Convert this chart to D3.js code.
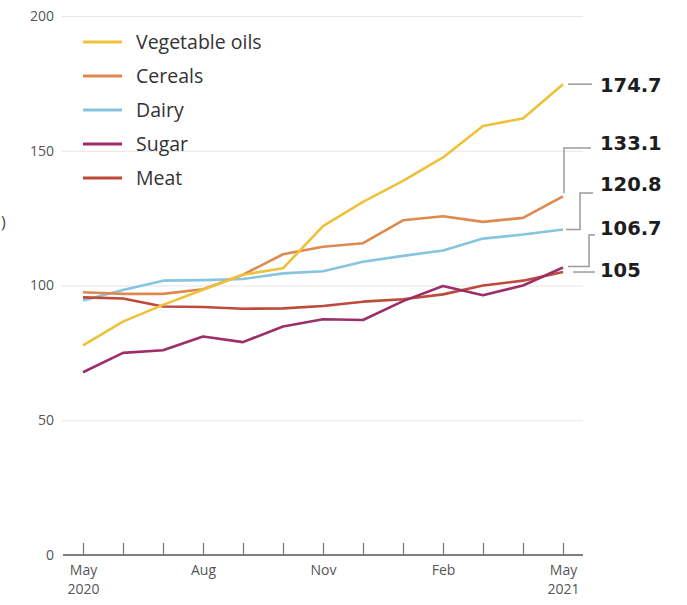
<!DOCTYPE html>
<html>
<head>
<meta charset="utf-8">
<script src="https://cdn.jsdelivr.net/npm/d3@7"></script>
<style>
  body { margin: 0; background: #fff; }
  svg { display: block; }
</style>
</head>
<body>
<script>
// monthly FAO sub-indices, May 2020 .. May 2021
let months = ["May", "Jun", "Jul", "Aug", "Sep", "Oct", "Nov", "Dec", "Jan", "Feb", "Mar", "Apr", "May"];
let monthLabels = ["May", "", "", "Aug", "", "", "Nov", "", "", "Feb", "", "", "May"];
let yearLabels = ["2020", "", "", "", "", "", "", "", "", "", "", "", "2021"];
let seriesNames = ["Vegetable oils", "Cereals", "Dairy", "Sugar", "Meat"];
let vegOils = [77.8, 86.6, 92.8, 98.4, 104.0, 106.4, 122.0, 131.0, 138.8, 147.5, 159.2, 162.0, 174.7];
let cereals = [97.5, 96.9, 96.9, 98.6, 104.0, 111.6, 114.4, 115.7, 124.2, 125.7, 123.6, 125.1, 133.1];
let dairy = [94.4, 98.3, 101.8, 102.0, 102.4, 104.5, 105.3, 108.8, 111.0, 113.0, 117.4, 118.9, 120.8];
let sugar = [67.8, 75.0, 76.0, 81.1, 79.0, 84.8, 87.5, 87.2, 94.2, 99.8, 96.4, 100.0, 106.7];
let meat = [95.6, 95.2, 92.2, 92.0, 91.4, 91.5, 92.4, 94.0, 94.9, 96.7, 100.0, 101.8, 105.0];
let yTicks = [0, 50, 100, 150, 200];
let endLabels = ["174.7", "133.1", "120.8", "106.7", "105"];

let colors = ["#efc139", "#de8a4f", "#86c5dd", "#9c2f68", "#bd4a3b"];
let allSeries = [vegOils, cereals, dairy, sugar, meat];

let width = 687, height = 605;
let svg = d3.select("body").append("svg")
  .attr("width", width)
  .attr("height", height);

let xScale = d3.scaleLinear().domain([0, months.length - 1]).range([83, 563]);
let yScale = d3.scaleLinear().domain([0, 200]).range([555, 16]);

// gridlines
svg.append("g")
  .attr("transform", "translate(62, 0)")
  .call(d3.axisLeft(yScale).tickValues(yTicks.filter(d => d > 0)).tickSize(-521).tickFormat(""))
  .call(g => g.select(".domain").remove())
  .call(g => g.selectAll("line").attr("stroke", "#e6e6e6").attr("stroke-width", 1.2));

// y tick labels
svg.append("g")
  .attr("transform", "translate(62, 0)")
  .call(d3.axisLeft(yScale).tickValues(yTicks).tickSize(0).tickPadding(8))
  .call(g => g.select(".domain").remove())
  .call(g => g.selectAll("text")
    .style("font-family", "'Open Sans', sans-serif")
    .style("font-size", "14px")
    .attr("fill", "#555"));

// x axis, ticks pointing up
let xAxis = svg.append("g")
  .attr("transform", "translate(0, " + yScale(0) + ")")
  .call(d3.axisBottom(xScale)
    .tickValues(d3.range(months.length))
    .tickSizeInner(-12)
    .tickSizeOuter(0)
    .tickPadding(10)
    .tickFormat(i => monthLabels[i]));

xAxis.select(".domain")
  .attr("d", "M63,0H583")
  .attr("stroke", "#555")
  .attr("stroke-width", 1.5);
xAxis.selectAll(".tick line").attr("stroke", "#777").attr("stroke-width", 1.2);
xAxis.selectAll(".tick text")
  .style("font-family", "'Open Sans', sans-serif")
  .style("font-size", "14px")
  .attr("fill", "#555");

// year under first and last month
xAxis.selectAll(".tick")
  .filter(i => yearLabels[i])
  .append("text")
  .attr("y", 29)
  .attr("dy", "0.71em")
  .attr("fill", "#555")
  .style("font-family", "'Open Sans', sans-serif")
  .style("font-size", "14px")
  .text(i => yearLabels[i]);

// lines
let line = d3.line()
  .x((d, i) => xScale(i))
  .y(d => yScale(d));

// draw back to front so veg oils sits on top like the original
let order = [2, 1, 4, 3, 0];
order.forEach(k => {
  svg.append("path")
    .datum(allSeries[k])
    .attr("d", line)
    .attr("fill", "none")
    .attr("stroke", colors[k])
    .attr("stroke-width", 2.6)
    .attr("stroke-linejoin", "round");
});

// legend
let legend = svg.append("g");
seriesNames.forEach((name, i) => {
  let y = 42 + i * 34;
  legend.append("line")
    .attr("x1", 83).attr("x2", 122)
    .attr("y1", y).attr("y2", y)
    .attr("stroke", colors[i])
    .attr("stroke-width", 3);
  legend.append("text")
    .attr("x", 136)
    .attr("y", y)
    .attr("dy", "0.35em")
    .style("font-family", "'Open Sans', sans-serif")
    .style("font-size", "19.5px")
    .attr("fill", "#333")
    .text(name);
});

// end value callouts
let lastX = xScale(months.length - 1);
let last = allSeries.map(s => yScale(s[s.length - 1]));
let labelY = [85, 143, 184, 228, 270];
let leaders = [
  [[lastX + 5, last[0]], [lastX + 29, last[0]]],
  [[lastX + 1, last[1] - 3], [lastX + 1, labelY[1] + 5], [lastX + 28, labelY[1] + 5]],
  [[lastX + 3, last[2]], [lastX + 17, last[2]], [lastX + 17, labelY[2] + 9], [lastX + 30, labelY[2] + 9]],
  [[lastX + 5, last[3] - 1], [lastX + 26, last[3] - 1], [lastX + 26, labelY[3] + 7], [lastX + 32, labelY[3] + 7]],
  [[lastX + 10, last[4]], [lastX + 32, last[4]]]
];
leaders.forEach(pts => {
  svg.append("path")
    .attr("d", d3.line()(pts))
    .attr("fill", "none")
    .attr("stroke", "#9a9a9a")
    .attr("stroke-width", 1.5);
});
endLabels.forEach((t, i) => {
  svg.append("text")
    .attr("x", 600)
    .attr("y", labelY[i])
    .attr("dy", "0.36em")
    .style("font-family", "'DejaVu Sans', sans-serif")
    .style("font-weight", "bold")
    .style("font-size", "19.5px")
    .attr("fill", "#1e1e1e")
    .text(t);
});

// axis title remnant at the left edge
svg.append("text")
  .attr("x", 1)
  .attr("y", 222)
  .attr("dy", "0.35em")
  .style("font-family", "'Open Sans', sans-serif")
  .style("font-size", "16px")
  .attr("fill", "#444")
  .text(")");
</script>
</body>
</html>
